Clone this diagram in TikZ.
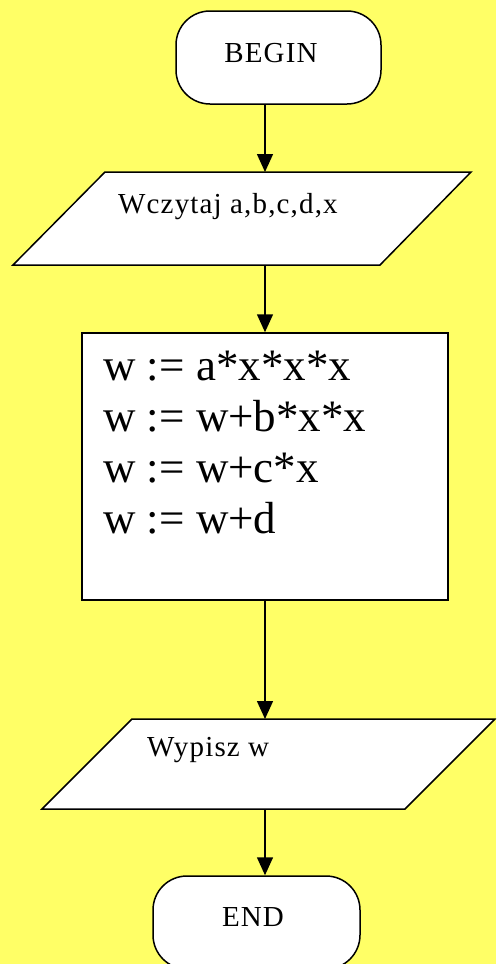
\documentclass[tikz,border=0pt]{standalone}
\usepackage{fontspec}
\setmainfont{Liberation Serif}
\usetikzlibrary{arrows.meta}
\definecolor{bgyellow}{RGB}{255,255,102}
\tikzset{
  shapeline/.style={draw=black, line width=1.5pt, fill=white},
  flow/.style={draw=black, line width=1.5pt, -{Triangle[width=16pt,length=18pt]}},
  smalltxt/.style={font=\fontsize{29pt}{34pt}\selectfont\addfontfeature{LetterSpace=4}, inner sep=0pt},
  bigtxt/.style={font=\fontsize{45pt}{51pt}\selectfont, inner sep=0pt, align=left}
}
\begin{document}
\begin{tikzpicture}[x=1pt,y=-1pt]
\useasboundingbox (0,0) rectangle (496,964);
\begin{scope}
\clip (0,0) rectangle (496,964);
\fill[bgyellow] (0,0) rectangle (496,964);

% BEGIN
\node[shapeline, rounded corners=34pt, minimum width=205pt, minimum height=93pt, inner sep=0pt] (begin) at (278.5,57.5) {};
\node[smalltxt] (begintxt) at (271,53) {BEGIN};

% input parallelogram
\draw[shapeline] (105,172) -- (471,172) -- (380,265) -- (13,265) -- cycle;
\coordinate (in1top) at (265,172);
\coordinate (in1bot) at (265,265);
\node[smalltxt, anchor=west] (in1txt) at (118,207) {Wczytaj a,b,c,d,x};

% process box
\node[shapeline, minimum width=366pt, minimum height=267pt, inner sep=0pt] (proc) at (265,466.5) {};
\node[bigtxt, anchor=north west] (proctxt) at (103,351) {w := a*x*x*x\\w := w+b*x*x\\w := w+c*x\\w := w+d};

% output parallelogram
\draw[shapeline] (132,719) -- (495,719) -- (405,809) -- (42,809) -- cycle;
\coordinate (out1top) at (265,719);
\coordinate (out1bot) at (265,809);
\node[smalltxt, anchor=west] (out1txt) at (147,750) {Wypisz w};

% END
\node[shapeline, rounded corners=34pt, minimum width=207pt, minimum height=93pt, inner sep=0pt] (endn) at (256.5,922.5) {};
\node[smalltxt] (endtxt) at (253,917) {END};

% connectors
\coordinate (b1) at (265,104);
\draw[flow] (b1) -- (in1top);
\draw[flow] (in1bot) -- (in1bot |- proc.north);
\draw[flow] (proc.south) -- (out1top);
\draw[flow] (out1bot) -- (out1bot |- endn.north);
\end{scope}
\end{tikzpicture}
\end{document}
